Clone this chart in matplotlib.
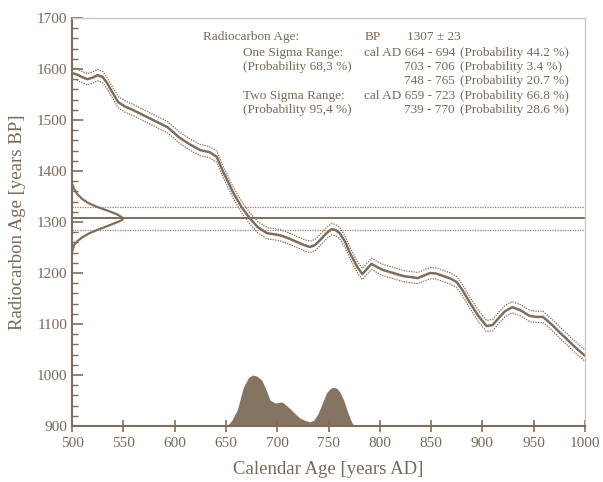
import matplotlib.pyplot as plt
import numpy as np

# calibration curve (cal AD vs 14C age BP)
cal_years = [500, 505, 510, 515, 520, 525, 530, 534, 540, 545, 552, 559, 569,
             579, 593, 605, 615, 625, 634, 641, 647, 657, 665, 673, 681, 690,
             697, 703, 711, 719, 726, 732, 737, 742, 748, 753, 757, 761, 766,
             771, 778, 783, 787, 792, 797, 803, 813, 823, 830, 837, 843, 849,
             855, 862, 869, 875, 881, 888, 896, 904, 910, 916, 922, 929, 937,
             946, 952, 959, 968, 976, 982, 988, 994, 1000]
cal_bp = [1592, 1589, 1584, 1580, 1583, 1588, 1584, 1573, 1552, 1535, 1526,
          1520, 1510, 1500, 1486, 1465, 1452, 1441, 1437, 1428, 1400, 1358,
          1330, 1308, 1290, 1278, 1276, 1274, 1268, 1261, 1255, 1251, 1255,
          1265, 1278, 1286, 1284, 1278, 1262, 1239, 1212, 1198, 1207, 1218,
          1212, 1206, 1200, 1194, 1192, 1190, 1195, 1200, 1199, 1194, 1189,
          1182, 1165, 1141, 1116, 1096, 1098, 1112, 1125, 1133, 1127, 1116,
          1114, 1114, 1098, 1082, 1071, 1059, 1048, 1038]
cal_sigma = 11

# measured radiocarbon age
c14_age = 1307
c14_err = 23

# measured age distribution on the y axis (width in years)
dist_bp = [1375, 1365, 1355, 1345, 1337, 1330, 1322, 1315, 1310, 1307, 1303,
           1298, 1290, 1284, 1277, 1270, 1262, 1255, 1248, 1240]
dist_w = [0, 2, 5, 10, 16, 24, 35, 44, 48, 50, 48, 42, 32, 24, 16, 10, 5, 2, 1, 0]

# calibrated probability distribution at the bottom (height in BP units)
prob_years = [650, 652, 656, 661, 667, 672, 676, 680, 685, 689, 693, 698, 705,
              712, 717, 722, 727, 732, 736, 740, 744, 748, 752, 755, 758, 761,
              765, 768, 771, 773, 775, 778]
prob_h = [0, 2, 12, 31, 76, 95, 100, 98, 90, 72, 51, 45, 47, 35, 25, 16, 11, 8,
          12, 25, 45, 65, 74, 76, 74, 67, 50, 31, 15, 6, 1, 0]

col = '#7f6d5a'
txt = '#7a6856'

plt.rcParams['font.family'] = ['Liberation Serif', 'DejaVu Serif']

fig = plt.figure(figsize=(6.03, 4.82), dpi=100)
ax = fig.add_axes([72/603, 1-426/482, (585-72)/603, (426-18)/482])

y = np.array(cal_bp)
ax.plot(cal_years, y, color=col, lw=1.8)
ax.plot(cal_years, y + cal_sigma, color=col, lw=0.9, ls=(0, (1, 1)))
ax.plot(cal_years, y - cal_sigma, color=col, lw=0.9, ls=(0, (1, 1)))

ax.axhline(c14_age, color=col, lw=1.4)
ax.axhline(c14_age + c14_err, color=col, lw=0.9, ls=(0, (1, 1)), alpha=0.85)
ax.axhline(c14_age - c14_err, color=col, lw=0.9, ls=(0, (1, 1)), alpha=0.85)

ax.plot(500 + np.array(dist_w), dist_bp, color=col, lw=1.6)

ax.fill_between(prob_years, 900, 900 + np.array(prob_h), color='#857461', lw=0)

ax.set_xlim(500, 1000)
ax.set_ylim(900, 1700)
ax.set_xticks(range(500, 1001, 50))
ax.set_yticks(range(900, 1701, 100))
ax.set_yticks(range(900, 1701, 20), minor=True)

for s in ['left', 'bottom']:
    ax.spines[s].set_color(col)
    ax.spines[s].set_linewidth(1.5)
for s in ['top', 'right']:
    ax.spines[s].set_color('#cfc8c0')
    ax.spines[s].set_linewidth(1.0)

ax.tick_params(axis='y', which='major', direction='in', length=8, width=1.2,
               color=col, labelcolor=txt, labelsize=11)
ax.tick_params(axis='y', which='minor', direction='in', length=4, width=1.0,
               color=col)
ax.tick_params(axis='x', which='major', direction='inout', length=8, width=1.2,
               color=col, labelcolor=txt, labelsize=11, pad=4)

ax.set_xlabel('Calendar Age [years AD]', color=txt, fontsize=13.5, labelpad=8)
ax.set_ylabel('Radiocarbon Age [years BP]', color=txt, fontsize=13.5, labelpad=8)

# result box text
fs = 9.5
def t(x, yy, s, ha='left'):
    fig.text(x/603, 1-yy/482, s, ha=ha, va='center', color=txt, fontsize=fs)

t(203, 37, 'Radiocarbon Age:')
t(365, 37, 'BP')
t(407, 37, '1307 \u00b1 23')
t(243, 53, 'One Sigma Range:')
t(243, 67, '(Probability 68,3 %)')
t(455, 53, 'cal AD 664 - 694', ha='right')
t(455, 67, '703 - 706', ha='right')
t(455, 81, '748 - 765', ha='right')
t(460, 53, '(Probability 44.2 %)')
t(460, 67, '(Probability 3.4 %)')
t(460, 81, '(Probability 20.7 %)')
t(243, 96, 'Two Sigma Range:')
t(243, 110, '(Probability 95,4 %)')
t(455, 96, 'cal AD 659 - 723', ha='right')
t(455, 110, '739 - 770', ha='right')
t(460, 96, '(Probability 66.8 %)')
t(460, 110, '(Probability 28.6 %)')

fig.savefig('out.png', dpi=100)
